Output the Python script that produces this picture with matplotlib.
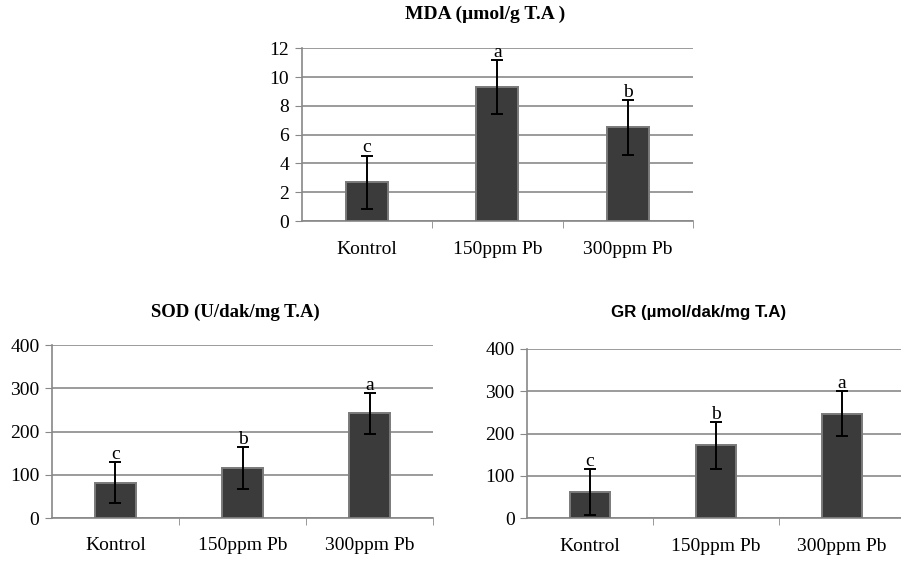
import matplotlib.pyplot as plt
import numpy as np

groups = ["Kontrol", "150ppm Pb", "300ppm Pb"]

mda_mean = [2.7, 9.3, 6.5]
mda_err = [1.85, 1.85, 1.9]
mda_letters = ["c", "a", "b"]

sod_mean = [82, 115, 242]
sod_err = [47, 49, 47]
sod_letters = ["c", "b", "a"]

gr_mean = [62, 172, 247]
gr_err = [54, 55, 53]
gr_letters = ["c", "b", "a"]

plt.rcParams["font.family"] = ["Liberation Serif", "DejaVu Serif"]

fig = plt.figure(figsize=(9.01, 5.67), dpi=100)


def panel(rect, means, errs, letters, ymax, step):
    ax = fig.add_axes(rect)
    x = np.arange(len(groups))
    ax.bar(x, means, width=0.32, color="#3b3b3b", edgecolor="#7a7a7a",
           linewidth=1.4, zorder=3)
    ax.errorbar(x, means, yerr=errs, fmt="none", ecolor="black",
                elinewidth=1.4, capsize=4.5, capthick=1.4, zorder=4)
    for xi, m, e, t in zip(x, means, errs, letters):
        ax.text(xi, m + e - ymax * 0.005, t, ha="center", va="bottom",
                fontsize=14, zorder=5)
    ax.set_xlim(-0.5, 2.5)
    ax.set_ylim(0, ymax)
    ax.set_yticks(np.arange(0, ymax + step / 2, step))
    ax.set_xticks(x)
    ax.set_xticklabels(groups)
    ax.set_xticks([0.5, 1.5, 2.5], minor=True)
    ax.tick_params(axis="x", which="major", length=0, pad=14, labelsize=14)
    ax.tick_params(axis="x", which="minor", length=5, color="#888888")
    ax.tick_params(axis="y", length=5, color="#888888", labelsize=14, pad=4)
    ax.yaxis.grid(True, color="#8a8a8a", linewidth=1.2, zorder=0)
    for s in ["top", "right"]:
        ax.spines[s].set_visible(False)
    for s in ["left", "bottom"]:
        ax.spines[s].set_color("#888888")
        ax.spines[s].set_linewidth(1.2)
    return ax


panel([0.335, 0.610, 0.434, 0.305], mda_mean, mda_err, mda_letters, 12, 2)
panel([0.0577, 0.0864, 0.4229, 0.305], sod_mean, sod_err, sod_letters, 400, 100)
panel([0.585, 0.0859, 0.419, 0.2986], gr_mean, gr_err, gr_letters, 400, 100)

fig.text(485 / 901, 1 - 14 / 567, "MDA (µmol/g T.A )", ha="center", va="center",
         fontsize=14, fontweight="bold")
fig.text(235 / 901, 1 - 312 / 567, "SOD (U/dak/mg T.A)", ha="center", va="center",
         fontsize=13.5, fontweight="bold")
fig.text(699 / 901, 1 - 313 / 567, "GR (µmol/dak/mg T.A)", ha="center", va="center",
         fontsize=12.2, fontweight="bold", family=["Liberation Sans", "DejaVu Sans"])

fig.savefig("out.png", dpi=100)
